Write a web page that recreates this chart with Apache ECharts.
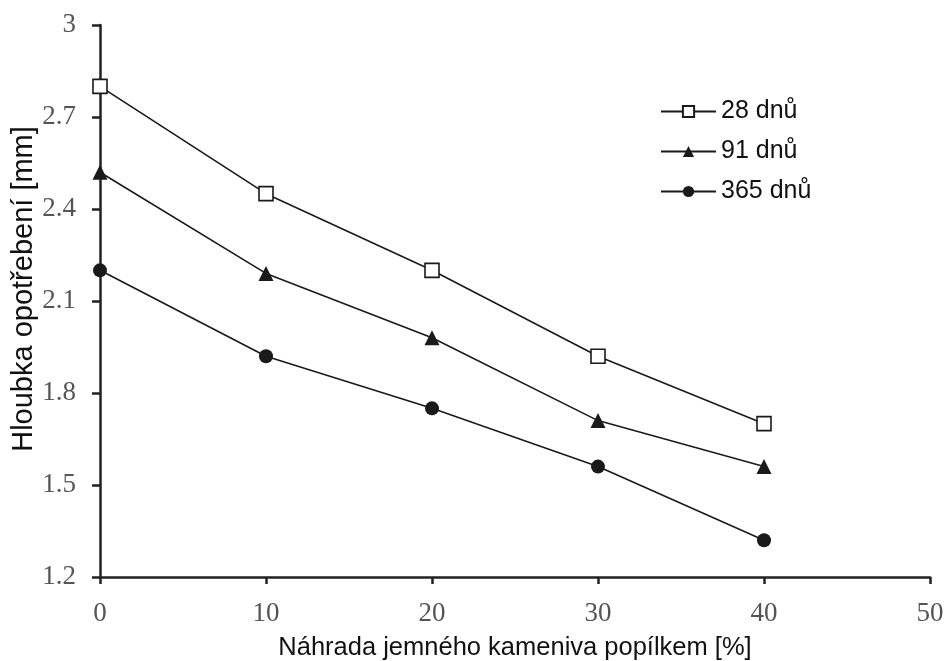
<!DOCTYPE html>
<html><head><meta charset="utf-8">
<script src="https://cdn.jsdelivr.net/npm/echarts@6/dist/echarts.min.js"></script>
<style>html,body{margin:0;padding:0;background:#fff}#c{width:947px;height:661px}</style>
</head><body><div id="c"></div>
<script>
const xValues = [0, 10, 20, 30, 40];
const d28 = [2.80, 2.45, 2.20, 1.92, 1.70];
const d91 = [2.52, 2.19, 1.98, 1.71, 1.56];
const d365 = [2.20, 1.92, 1.75, 1.56, 1.32];
const seriesNames = ['28 dnů', '91 dnů', '365 dnů'];
const xTitle = 'Náhrada jemného kameniva popílkem [%]';
const yTitle = 'Hloubka opotřebení [mm]';

const pairs = arr => xValues.map((x, i) => [x, arr[i]]);
const lineCol = '#1a1a1a';
const chart = echarts.init(document.getElementById('c'), null, {renderer: 'canvas'});
const mk = (name, data, symbol, size, fill) => ({
  name, type: 'line', data: pairs(data), symbol, symbolSize: size,
  lineStyle: {color: lineCol, width: 1.6},
  itemStyle: {color: fill, borderColor: lineCol, borderWidth: fill === '#fff' ? 1.6 : 0},
  emphasis: {disabled: true}, animation: false
});
chart.setOption({
  animation: false,
  grid: {left: 100, right: 17, top: 25, bottom: 84, containLabel: false, outerBoundsMode: 'none'},
  legend: {
    left: 655, top: 94, orient: 'vertical', itemGap: 15, itemWidth: 55, itemHeight: 14,
    textStyle: {fontFamily: 'Liberation Sans', fontSize: 25, color: '#111'},
    data: seriesNames
  },
  graphic: [{
    type: 'text', x: 24, y: 289, rotation: Math.PI / 2,
    style: {text: yTitle, fontFamily: 'Liberation Sans', fontSize: 29, fill: '#111',
      align: 'center', verticalAlign: 'middle'}
  }],
  xAxis: {
    type: 'value', min: 0, max: 50, interval: 10,
    name: xTitle, nameLocation: 'middle', nameGap: 58,
    nameTextStyle: {fontFamily: 'Liberation Sans', fontSize: 25.5, color: '#111'},
    axisLine: {lineStyle: {color: '#222', width: 2.5}},
    axisTick: {length: 7, lineStyle: {color: '#222', width: 2.5}},
    axisLabel: {fontFamily: 'Liberation Serif', fontSize: 27, color: '#555', margin: 23},
    splitLine: {show: false}
  },
  yAxis: {
    type: 'value', min: 1.2, max: 3, interval: 0.3,
    axisLine: {show: true, lineStyle: {color: '#222', width: 2.5}},
    axisTick: {show: true, length: 8, lineStyle: {color: '#222', width: 2.5}},
    axisLabel: {fontFamily: 'Liberation Serif', fontSize: 27, color: '#555', margin: 24,
      formatter: v => String(Math.round(v * 10) / 10)},
    splitLine: {show: false}
  },
  series: [
    mk(seriesNames[0], d28, 'rect', 14, '#fff'),
    mk(seriesNames[1], d91, 'triangle', 15, lineCol),
    mk(seriesNames[2], d365, 'circle', 14, lineCol)
  ]
});
</script></body></html>
